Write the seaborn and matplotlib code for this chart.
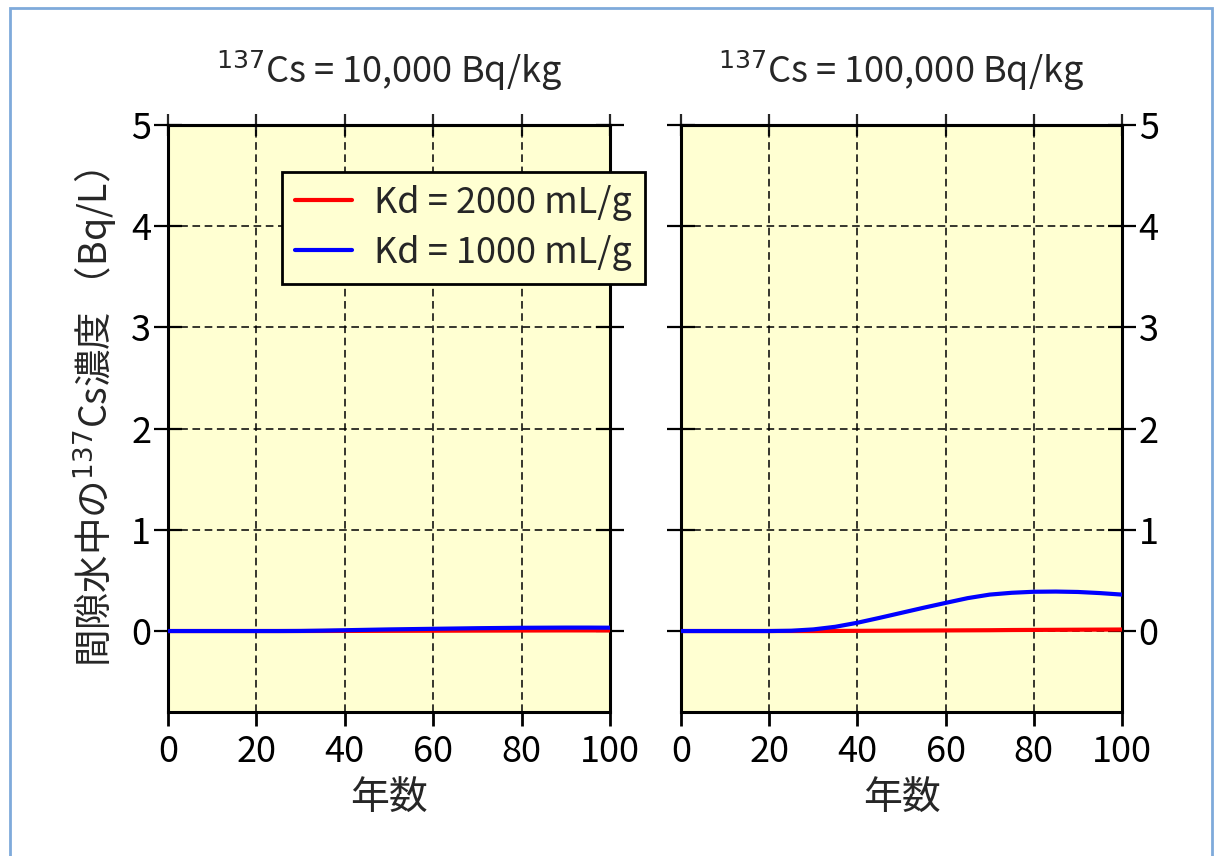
import numpy as np
import pandas as pd
import matplotlib
matplotlib.use("Agg")
import matplotlib.pyplot as plt
import seaborn as sb
from matplotlib.patches import Rectangle

# values
years = [0, 10, 20, 25, 30, 35, 40, 45, 50, 55, 60, 65, 70, 75, 80, 85, 90, 95, 100]
left_kd2000 = [0, 0, 0, 0, 0, 0.0005, 0.001, 0.0015, 0.002, 0.0025, 0.003, 0.0035, 0.004, 0.0045, 0.005, 0.0055, 0.006, 0.006, 0.006]
left_kd1000 = [0, 0, 0, 0, 0.001, 0.004, 0.008, 0.012, 0.016, 0.019, 0.022, 0.025, 0.028, 0.030, 0.032, 0.033, 0.034, 0.034, 0.033]
right_kd2000 = [0, 0, 0, 0, 0, 0.001, 0.002, 0.003, 0.004, 0.005, 0.006, 0.007, 0.008, 0.010, 0.011, 0.012, 0.013, 0.014, 0.015]
right_kd1000 = [0, 0, 0, 0.003, 0.016, 0.042, 0.082, 0.13, 0.18, 0.23, 0.278, 0.325, 0.36, 0.378, 0.388, 0.39, 0.386, 0.375, 0.36]

titles = ["$^{137}$Cs = 10,000 Bq/kg", "$^{137}$Cs = 100,000 Bq/kg"]
series_names = ["Kd = 2000 mL/g", "Kd = 1000 mL/g"]
series_colors = ["#FF0000", "#0000FF"]
xlabel = "年数"
ylabel = "間隙水中の$^{137}$Cs濃度 （Bq/L）"

sb.set_style("white")
plt.rcParams['font.family'] = ['Noto Sans CJK JP', 'DejaVu Sans']
plt.rcParams['mathtext.fontset'] = 'dejavusans'

fig = plt.figure(figsize=(12.18, 8.56), dpi=100)
# light blue frame around the picture
fig.patches.append(Rectangle((10 / 1218, -0.05), 1202 / 1218, 1.05 - 8 / 856,
                             transform=fig.transFigure, fill=False,
                             edgecolor="#7FAADB", linewidth=2))

ax1 = fig.add_axes([168 / 1218, 144 / 856, 442 / 1218, 587 / 856])
ax2 = fig.add_axes([681 / 1218, 144 / 856, 441 / 1218, 587 / 856])

panels = [(ax1, left_kd2000, left_kd1000), (ax2, right_kd2000, right_kd1000)]
for i, (ax, kd2000, kd1000) in enumerate(panels):
    df = pd.DataFrame({"year": years, "Kd2000": kd2000, "Kd1000": kd1000})
    ax.set_facecolor("#FFFFD2")
    sb.lineplot(data=df, x="year", y="Kd2000", ax=ax, color=series_colors[0],
                linewidth=3, label=series_names[0], zorder=3)
    sb.lineplot(data=df, x="year", y="Kd1000", ax=ax, color=series_colors[1],
                linewidth=3, label=series_names[1], zorder=4)
    ax.set_xlim(0, 100)
    ax.set_ylim(-0.8, 5)
    ax.set_xticks([0, 20, 40, 60, 80, 100])
    ax.set_yticks([0, 1, 2, 3, 4, 5])
    ax.grid(True, color="black", linestyle=(0, (5, 3)), linewidth=1.1)
    for s in ax.spines.values():
        s.set_visible(True)
        s.set_color("black")
        s.set_linewidth(2.2)
    ax.tick_params(axis="x", direction="out", length=10, width=2, labelsize=26,
                   pad=6, bottom=True, top=False, colors="black")
    ax.tick_params(axis="y", direction="inout", length=20, width=1.6, labelsize=26,
                   pad=2, left=True, right=True, colors="black")
    if i == 0:
        ax.tick_params(axis="y", labelleft=True, labelright=False)
    else:
        ax.tick_params(axis="y", labelleft=False, labelright=True)
    top = ax.secondary_xaxis("top")
    top.set_xticks([0, 20, 40, 60, 80, 100])
    top.tick_params(direction="inout", length=16, width=1.6, labeltop=False)
    top.spines["top"].set_linewidth(2.2)
    ax.set_title(titles[i], fontsize=26, pad=30)
    ax.set_xlabel(xlabel, fontsize=28, labelpad=6)
    ax.set_ylabel("")
    ax.get_legend().remove()

ax1.set_ylabel(ylabel, fontsize=27, labelpad=8)

handles, labels = ax1.get_legend_handles_labels()
leg = ax1.legend(handles, labels, loc="upper left", bbox_to_anchor=(0.258, 0.92),
                 fontsize=26, frameon=True, fancybox=False, facecolor="#FFFFD2",
                 edgecolor="black", framealpha=1, handlelength=1.6,
                 borderpad=0.35, labelspacing=0.4, handletextpad=0.6,
                 borderaxespad=0)
leg.get_frame().set_linewidth(2)
leg.set_zorder(10)
for line in leg.get_lines():
    line.set_linewidth(3)

fig.savefig("out.png", dpi=100)
